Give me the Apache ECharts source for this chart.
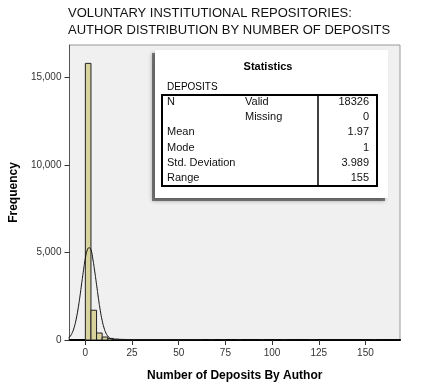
<!DOCTYPE html>
<html><head><meta charset="utf-8">
<script src="https://cdn.jsdelivr.net/npm/echarts@6/dist/echarts.min.js"></script>
<style>html,body{margin:0;padding:0;background:#fff}#c{width:424px;height:387px}</style>
</head><body><div id="c"></div>
<script>
// ---- data ----
const binWidth = 3;
const binStarts = [0,3,6,9,12,15,18,21,24,27,30,33,36,39,42,45,48,51,54,57,60,66,72,81,93,105,120,153];
const binCounts = [15800,1700,400,170,90,55,35,25,18,12,10,8,6,5,4,4,3,3,2,2,2,2,1,1,1,1,1,1];
const curveX = [-9,-8,-7,-6,-5,-4,-3,-2,-1,0,1,2,3,4,5,6,7,8,9,10,11,12,13,14,15,16,18,20,25,40,80,170];
const curveY = [120,232,420,716,1150,1720,2420,3212,3980,4666,5130,5270,5150,4631,3930,3164,2380,1680,1110,694,400,224,115,56,26,11,2,0,0,0,0,0];
const xTicks = [0,25,50,75,100,125,150];
const yTicks = [0,5000,10000,15000];
const titleLines = ['VOLUNTARY INSTITUTIONAL REPOSITORIES:','AUTHOR DISTRIBUTION BY NUMBER OF DEPOSITS'];
const statTitle = 'Statistics';
const statVar = 'DEPOSITS';
const statRows = [['N','Valid','18326'],['','Missing','0'],['Mean','','1.97'],['Mode','','1'],['Std. Deviation','','3.989'],['Range','','155']];

// ---- chart ----
const chart = echarts.init(document.getElementById('c'));
const FONT = '"Liberation Sans", Arial, sans-serif';
const histData = binStarts.map((s,i)=>[s, s+binWidth, binCounts[i]]);
const curveData = curveX.map((x,i)=>[x, curveY[i]]);

const rowY = [102,117,132,148,163,178];
const tableEls = [
  {type:'rect', shape:{x:152,y:53,width:233,height:148}, style:{fill:'rgba(50,50,50,0.6)', shadowBlur:4, shadowColor:'rgba(0,0,0,0.5)'}, z:9},
  {type:'rect', shape:{x:155,y:50,width:233,height:148}, style:{fill:'#fff'}, z:10},
  {type:'rect', shape:{x:162,y:95,width:215,height:91}, style:{fill:'none', stroke:'#000', lineWidth:2}, z:11},
  {type:'line', shape:{x1:318,y1:95,x2:318,y2:186}, style:{stroke:'#000', lineWidth:1.5}, z:11},
  {type:'text', x:268, y:67, style:{text:statTitle, font:'bold 11px '+FONT, fill:'#000', textAlign:'center', textVerticalAlign:'middle'}, z:12},
  {type:'text', x:167, y:87, style:{text:statVar, font:'10px '+FONT, fill:'#000', textAlign:'left', textVerticalAlign:'middle'}, z:12}
];
statRows.forEach((r,i)=>{
  if(r[0]) tableEls.push({type:'text', x:167, y:rowY[i], style:{text:r[0], font:'11px '+FONT, fill:'#111', textAlign:'left', textVerticalAlign:'middle'}, z:12});
  if(r[1]) tableEls.push({type:'text', x:245, y:rowY[i], style:{text:r[1], font:'11px '+FONT, fill:'#111', textAlign:'left', textVerticalAlign:'middle'}, z:12});
  tableEls.push({type:'text', x:369, y:rowY[i], style:{text:r[2], font:'11px '+FONT, fill:'#111', textAlign:'right', textVerticalAlign:'middle'}, z:12});
});

chart.setOption({
  animation:false,
  backgroundColor:'#fff',
  title:{text:titleLines.join('\n'), left:68, top:5, padding:0, textStyle:{fontFamily:FONT, fontSize:13, fontWeight:'normal', color:'#111', lineHeight:17}},
  grid:{left:69, top:45, right:24, bottom:47, show:true, backgroundColor:'#f0f0f0', borderColor:'#999', borderWidth:1},
  xAxis:{type:'value', min:-8.5, max:168.5,
    name:'Number of Deposits By Author', nameLocation:'middle', nameGap:30,
    nameTextStyle:{fontFamily:FONT, fontSize:12, fontWeight:'bold', color:'#000'},
    axisLine:{show:true, onZero:false, lineStyle:{color:'#000', width:2}},
    axisTick:{show:true, customValues:xTicks, length:5, lineStyle:{color:'#333'}},
    axisLabel:{customValues:xTicks, fontFamily:FONT, fontSize:10, color:'#333', margin:8},
    splitLine:{show:false}},
  yAxis:{type:'value', min:0, max:16850,
    name:'Frequency', nameLocation:'middle', nameGap:46, nameRotate:90,
    nameTextStyle:{fontFamily:FONT, fontSize:12, fontWeight:'bold', color:'#000'},
    axisLine:{show:true, onZero:false, lineStyle:{color:'#555', width:1}},
    axisTick:{show:true, customValues:yTicks, length:5, lineStyle:{color:'#333'}},
    axisLabel:{customValues:yTicks, fontFamily:FONT, fontSize:10, color:'#333', margin:8,
      formatter:v=>v.toLocaleString('en-US')},
    splitLine:{show:false}},
  series:[
    {type:'custom', data:histData, encode:{x:[0,1], y:2}, clip:true,
      renderItem:(params, api)=>{
        const p0 = api.coord([api.value(0), api.value(2)]);
        const p1 = api.coord([api.value(1), 0]);
        return {type:'rect', shape:{x:p0[0], y:p0[1], width:p1[0]-p0[0], height:p1[1]-p0[1]},
          style:{fill:'#d8d29c', stroke:'#222', lineWidth:1}};
      }, z:2},
    {type:'line', data:curveData, smooth:true, showSymbol:false, symbol:'none', clip:true,
      lineStyle:{color:'#111', width:1}, z:3}
  ],
  graphic:tableEls
});
</script></body></html>
